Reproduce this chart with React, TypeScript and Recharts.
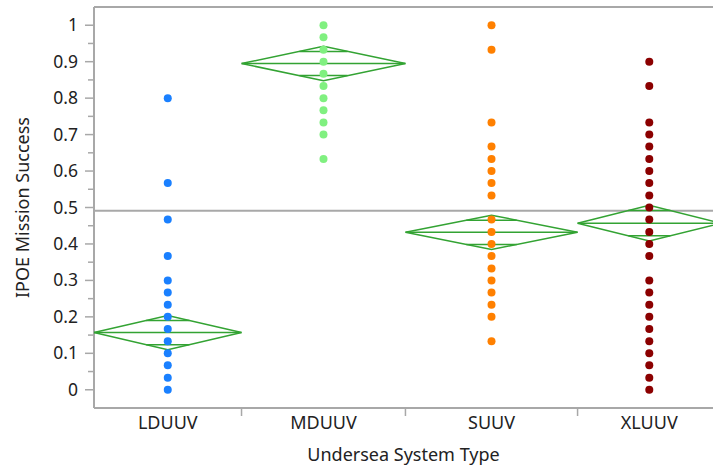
import React from 'react';
import { ComposedChart, Scatter, XAxis, YAxis, ReferenceLine } from 'recharts';

const categories = ['LDUUV', 'MDUUV', 'SUUV', 'XLUUV'];
// JMP sizes each x band by group size; these are estimated relative sizes
const groupSizes = [36, 40, 42, 35];

const lduuvValues = [0, 0.033, 0.067, 0.1, 0.133, 0.167, 0.2, 0.233, 0.267, 0.3, 0.367, 0.467, 0.567, 0.8];
const mduuvValues = [0.633, 0.7, 0.733, 0.767, 0.8, 0.833, 0.867, 0.9, 0.933, 0.967, 1];
const suuvValues = [0.133, 0.2, 0.233, 0.267, 0.3, 0.333, 0.367, 0.4, 0.433, 0.467, 0.533, 0.567, 0.6, 0.633, 0.667, 0.733, 0.933, 1];
const xluuvValues = [
  0, 0.033, 0.067, 0.1, 0.133, 0.167, 0.2, 0.233, 0.267, 0.3,
  0.367, 0.4, 0.433, 0.467, 0.5, 0.533, 0.567, 0.6, 0.633, 0.667, 0.7, 0.733, 0.833, 0.9,
];

const groupMeans = [0.157, 0.895, 0.432, 0.457];
const ciHalfWidths = [0.047, 0.047, 0.047, 0.049];
const grandMean = 0.491;

const yTicks = [0, 0.05, 0.1, 0.15, 0.2, 0.25, 0.3, 0.35, 0.4, 0.45, 0.5, 0.55, 0.6, 0.65, 0.7, 0.75, 0.8, 0.85, 0.9, 0.95, 1];
const yDomain: [number, number] = [-0.05, 1.05];

const pointColors = ['#1a80ff', '#80f080', '#ff8000', '#8b0000'];
const diamondColor = '#33a333';
const frameColor = '#a8a8a8';
const font = '"Noto Sans", "Open Sans", sans-serif';

const groupValues = [lduuvValues, mduuvValues, suuvValues, xluuvValues];
const totalSize = groupSizes.reduce((a, b) => a + b, 0);

const bands = groupSizes.map((n, i) => {
  const left = groupSizes.slice(0, i).reduce((a, b) => a + b, 0);
  return { left, right: left + n, center: left + n / 2 };
});
const boundaries = bands.slice(1).map((b) => b.left);
const centers = bands.map((b) => b.center);

const diamonds = bands.map((b, i) => {
  const m = groupMeans[i];
  const h = ciHalfWidths[i];
  const mark = h / Math.SQRT2;
  const inset = (b.center - b.left) * (1 - 1 / Math.SQRT2);
  return {
    outline: [
      { x: b.left, y: m },
      { x: b.center, y: m + h },
      { x: b.right, y: m },
      { x: b.center, y: m - h },
      { x: b.left, y: m },
    ],
    meanLine: [{ x: b.left, y: m }, { x: b.right, y: m }],
    upper: [{ x: b.center - inset, y: m + mark }, { x: b.center + inset, y: m + mark }],
    lower: [{ x: b.center - inset, y: m - mark }, { x: b.center + inset, y: m - mark }],
  };
});

const noShape = () => <g />;

const XTick = (props: any) => {
  const { x, y, payload } = props;
  const idx = centers.indexOf(payload.value);
  if (idx >= 0) {
    return (
      <text x={x} y={y + 21} textAnchor="middle" fontSize={18} fontFamily={font} fill="#222">
        {categories[idx]}
      </text>
    );
  }
  return <line x1={x} x2={x} y1={y} y2={y + 8} stroke={frameColor} strokeWidth={1.5} />;
};

const YTick = (props: any) => {
  const { x, y, payload } = props;
  const v = payload.value;
  const major = Math.abs(v * 10 - Math.round(v * 10)) < 1e-6;
  return (
    <g>
      <line x1={x - (major ? 9 : 6)} x2={x} y1={y} y2={y} stroke={frameColor} strokeWidth={1.5} />
      {major && (
        <text x={x - 16} y={y + 6} textAnchor="end" fontSize={17.5} fontFamily={font} fill="#222">
          {String(Math.round(v * 10) / 10)}
        </text>
      )}
    </g>
  );
};

export default function App() {
  return (
    <div
      style={{
        position: 'absolute', left: 0, top: 0, width: 713, height: 472,
        overflow: 'hidden', background: '#fff',
      }}
    >
      <ComposedChart width={730} height={472} margin={{ top: 7, right: 9, bottom: 4, left: 0 }}>
        <XAxis
          type="number"
          dataKey="x"
          domain={[0, totalSize]}
          ticks={[...centers, ...boundaries]}
          interval={0}
          height={60}
          tickSize={0}
          tickMargin={0}
          tickLine={false}
          tick={<XTick />}
          axisLine={{ stroke: frameColor, strokeWidth: 2 }}
          label={{
            value: 'Undersea System Type', position: 'insideBottom', offset: 7, dx: -4,
            style: { fontSize: 18, fontFamily: font, fill: '#222' },
          }}
        />
        <YAxis
          type="number"
          dataKey="y"
          domain={yDomain}
          ticks={yTicks}
          interval={0}
          width={94}
          tickSize={0}
          tickMargin={0}
          tickLine={false}
          tick={<YTick />}
          axisLine={{ stroke: frameColor, strokeWidth: 2 }}
          label={{
            value: 'IPOE Mission Success', angle: -90, position: 'center', dx: -24,
            style: { fontSize: 18, fontFamily: font, fill: '#222' },
          }}
        />
        <ReferenceLine y={yDomain[1]} stroke={frameColor} strokeWidth={2} />
        <ReferenceLine y={grandMean} stroke={frameColor} strokeWidth={2} />
        {diamonds.map((d, i) => (
          <React.Fragment key={'d' + i}>
            <Scatter data={d.outline} line={{ stroke: diamondColor, strokeWidth: 1.5 }} lineType="joint" shape={noShape} isAnimationActive={false} />
            <Scatter data={d.meanLine} line={{ stroke: diamondColor, strokeWidth: 1.5 }} lineType="joint" shape={noShape} isAnimationActive={false} />
            <Scatter data={d.upper} line={{ stroke: diamondColor, strokeWidth: 1.5 }} lineType="joint" shape={noShape} isAnimationActive={false} />
            <Scatter data={d.lower} line={{ stroke: diamondColor, strokeWidth: 1.5 }} lineType="joint" shape={noShape} isAnimationActive={false} />
          </React.Fragment>
        ))}
        {groupValues.map((vals, i) => (
          <Scatter
            key={'p' + i}
            data={vals.map((v) => ({ x: centers[i], y: v }))}
            isAnimationActive={false}
            shape={(p: any) => <circle cx={p.cx} cy={p.cy} r={4} fill={pointColors[i]} />}
          />
        ))}
      </ComposedChart>
    </div>
  );
}
